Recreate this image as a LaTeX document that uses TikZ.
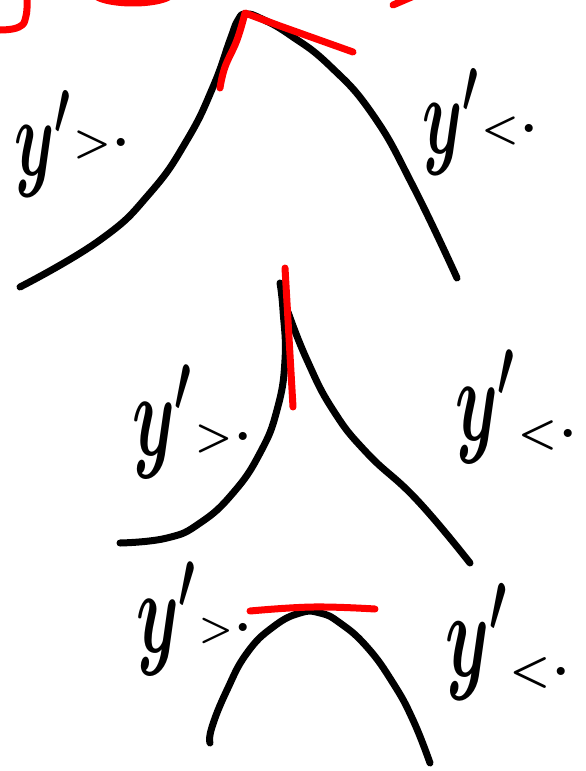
\documentclass[tikz,border=0pt]{standalone}
\usepackage{fix-cm}
% #1 size of y', #2 size of relation, #3 relation, #4 raise of relation
\newcommand\ylab[4]{\scalebox{1}[1.75]{\fontsize{#1}{#1}\selectfont\boldmath$y'$}\hspace{3pt}\raisebox{#4}{\fontsize{#2}{#2}\selectfont\boldmath$#3$\hspace{2pt}\raisebox{9pt}{\fontsize{56}{56}\selectfont\bfseries.}}}
\begin{document}
\begin{tikzpicture}[x=1pt,y=-1pt,
  ink/.style={line width=7pt,line cap=round,line join=round,black},
  pen/.style={line width=7pt,line cap=round,line join=round,red},
  lbl/.style={anchor=base west,inner sep=0pt}]
\useasboundingbox (0,0) rectangle (586,771);
\clip (0,0) rectangle (586,771);
% red fragments at the top edge
\draw[pen] plot[smooth,tension=0.8] coordinates {(27,-4) (26,16) (19,27) (0,30)};
\draw[pen] (133,-8) ellipse [x radius=40,y radius=11];
\draw[pen] (393,5) -- (414,-4);
% top figure
\draw[ink] plot[smooth,tension=0.8] coordinates {(20,287) (100,240) (150,193) (187,140) (213,87) (230,40) (238,20) (246,14) (262,19) (290,35) (330,66) (373,115) (413,186) (457,278)};
\draw[pen] plot[smooth,tension=0.7] coordinates {(220,88) (225,67) (237,40) (245,13)} -- (280,26) -- (353,52);
\node[lbl] (t1) at (14,175) {\ylab{64}{42}{>}{20pt}};
\node[lbl] (t2) at (422,153) {\ylab{64}{42}{<}{12pt}};
% middle figure
\draw[ink] plot[smooth,tension=0.8] coordinates {(120,543) (167,538) (200,523) (233,493) (260,453) (277,410) (285,360) (283,310) (280,283)};
\draw[ink] plot[smooth,tension=0.8] coordinates {(288,312) (307,360) (333,410) (367,453) (417,500) (470,563)};
\draw[pen] (285,268) -- (293,407);
\node[lbl] (m1) at (132,455) {\ylab{68}{42}{>}{6pt}};
\node[lbl] (m2) at (455,440) {\ylab{68}{44}{<}{-6pt}};
% bottom figure
\draw[ink] plot[smooth,tension=0.8] coordinates {(210,743) (212,727) (227,690) (247,653) (273,627) (300,613) (320,613) (340,623) (367,647) (393,683) (413,720) (430,763)};
\draw[pen] plot[smooth,tension=0.7] coordinates {(250,611) (313,607) (375,609)};
\node[lbl] (b1) at (136,652) {\ylab{68}{38}{>}{12pt}};
\node[lbl] (b2) at (445,676) {\ylab{70}{46}{<}{-8pt}};
\end{tikzpicture}
\end{document}
